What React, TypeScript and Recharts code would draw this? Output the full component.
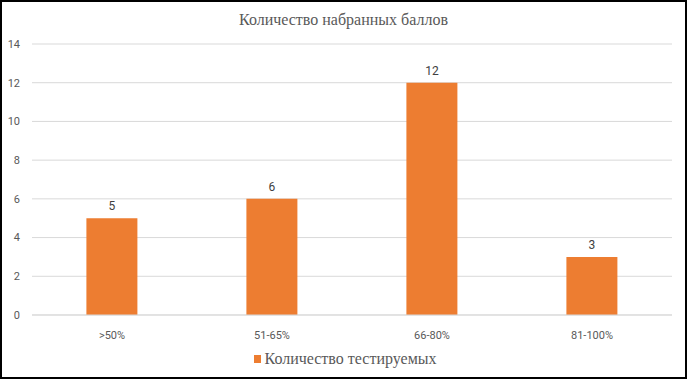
import React from "react";
import { BarChart, Bar, XAxis, YAxis, CartesianGrid, LabelList, Legend } from "recharts";

const categories = [">50%", "51-65%", "66-80%", "81-100%"];
const counts = [5, 6, 12, 3];
const yTicks = [0, 2, 4, 6, 8, 10, 12, 14];
const title = "Количество набранных баллов";
const seriesName = "Количество тестируемых";

const data = categories.map((c, i) => ({ name: c, value: counts[i] }));

const tickStyle = { fill: "#595959", fontSize: 11, fontFamily: "Roboto, sans-serif" };

const renderLegend = () => (
  <div style={{ display: "flex", justifyContent: "center", alignItems: "center", fontFamily: "'Liberation Serif', 'Times New Roman', serif", fontSize: 16, color: "#595959", paddingLeft: 18 }}>
    <span style={{ display: "inline-block", width: 7, height: 8, background: "#ED7D31", marginRight: 4 }} />
    <span>{seriesName}</span>
  </div>
);

export default function App() {
  return (
    <div style={{ position: "absolute", left: 0, top: 0, width: 687, height: 379, boxSizing: "border-box", border: "2px solid #000", background: "#fff" }}>
      <div style={{ position: "absolute", left: 0, top: 9, width: 683, textAlign: "center", fontFamily: "'Liberation Serif', 'Times New Roman', serif", fontSize: 16, color: "#595959" }}>
        {title}
      </div>
      <div style={{ position: "absolute", left: -2, top: -2 }}>
        <BarChart width={687} height={379} data={data} margin={{ top: 44, right: 15, bottom: 5, left: 0 }} barCategoryGap="34%">
          <CartesianGrid vertical={false} stroke="#d9d9d9" />
          <XAxis dataKey="name" tick={tickStyle} tickLine={false} axisLine={{ stroke: "#d9d9d9" }} tickMargin={10} height={35} interval={0} />
          <YAxis domain={[0, 14]} ticks={yTicks} tick={tickStyle} tickLine={false} axisLine={false} width={32} tickMargin={6} interval={0} />
          <Legend verticalAlign="bottom" height={24} content={renderLegend} />
          <Bar dataKey="value" name={seriesName} fill="#ED7D31" isAnimationActive={false}>
            <LabelList dataKey="value" position="top" offset={8} style={{ fill: "#404040", fontSize: 12, fontFamily: "Roboto, sans-serif" }} />
          </Bar>
        </BarChart>
      </div>
    </div>
  );
}
